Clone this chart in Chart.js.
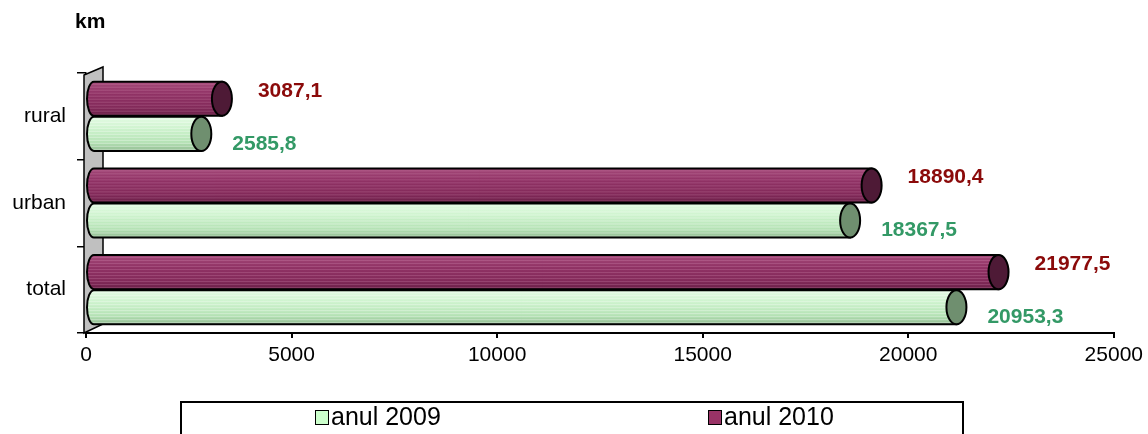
<!DOCTYPE html>
<html>
<head>
<meta charset="utf-8">
<script src="https://cdn.jsdelivr.net/npm/chart.js@4.4.1/dist/chart.umd.min.js"></script>
<style>
  html, body { margin: 0; padding: 0; background: #fff; }
  #wrap { width: 1148px; height: 434px; }
</style>
</head>
<body>
<div id="wrap"><canvas id="chart"></canvas></div>
<script>
const categories = ["rural", "urban", "total"];
const values2009 = [2585.8, 18367.5, 20953.3];
const values2010 = [3087.1, 18890.4, 21977.5];
const seriesNames = ["anul 2009", "anul 2010"];
const xTicks = [0, 5000, 10000, 15000, 20000, 25000];
const unitLabel = "km";

const FONT = "'Liberation Sans', Arial, sans-serif";

// look of each series (2009 = light green, 2010 = maroon)
const looks = {
  "anul 2009": {
    stops: [[0, "#e4fbe4"], [0.35, "#cdf3cd"], [0.75, "#b4e2b4"], [1, "#8fba8f"]],
    cap: "#6f8f6f", label: "#339966", swatch: "#ccffcc", stripe: "rgba(255,255,255,0.35)",
    dx: 21, dy: 10
  },
  "anul 2010": {
    stops: [[0, "#a54a7a"], [0.35, "#903265"], [0.75, "#832a5a"], [1, "#6a1f47"]],
    cap: "#4e1a36", label: "#8b0a0a", swatch: "#993366", stripe: "rgba(255,200,230,0.18)",
    dx: 26, dy: -8
  }
};

function fmt(v) {
  return v.toFixed(1).replace(".", ",");
}

function bodyPath(ctx, base, right, cy, h, rxL) {
  const top = cy - h / 2, bot = cy + h / 2;
  ctx.beginPath();
  ctx.moveTo(base + rxL, top);
  ctx.lineTo(right, top);
  ctx.lineTo(right, bot);
  ctx.lineTo(base + rxL, bot);
  ctx.ellipse(base + rxL, cy, rxL, h / 2, 0, Math.PI / 2, Math.PI * 1.5);
  ctx.closePath();
}

function drawCylinder(ctx, base, end, cy, h, look) {
  const top = cy - h / 2, bot = cy + h / 2;
  const rxL = 7, rxR = 10, right = end + 9;
  const grad = ctx.createLinearGradient(0, top, 0, bot);
  look.stops.forEach(s => grad.addColorStop(s[0], s[1]));

  ctx.save();
  bodyPath(ctx, base, right, cy, h, rxL);
  ctx.fillStyle = grad;
  ctx.fill();

  // thin stripes for the texture
  ctx.save();
  ctx.clip();
  ctx.strokeStyle = look.stripe;
  ctx.lineWidth = 1;
  for (let y = top + 2; y < bot; y += 3) {
    ctx.beginPath();
    ctx.moveTo(base, y + 0.5);
    ctx.lineTo(right, y + 0.5);
    ctx.stroke();
  }
  ctx.restore();

  bodyPath(ctx, base, right, cy, h, rxL);
  ctx.strokeStyle = "#000";
  ctx.lineWidth = 2;
  ctx.stroke();

  ctx.beginPath();
  ctx.ellipse(right, cy, rxR, h / 2, 0, 0, Math.PI * 2);
  ctx.fillStyle = look.cap;
  ctx.fill();
  ctx.stroke();
  ctx.restore();
  return right + rxR;
}

const cylinderPlugin = {
  id: "cylinders",
  beforeDatasetsDraw(chart) {
    const ctx = chart.ctx, a = chart.chartArea;
    ctx.save();
    ctx.beginPath();
    ctx.moveTo(a.left - 2, a.bottom);
    ctx.lineTo(a.left - 2, a.top + 2);
    ctx.lineTo(a.left + 17, a.top - 6);
    ctx.lineTo(a.left + 17, a.bottom - 9);
    ctx.closePath();
    ctx.fillStyle = "#c0c0c0";
    ctx.fill();
    ctx.strokeStyle = "#000";
    ctx.lineWidth = 1.5;
    ctx.stroke();
    ctx.restore();
  },
  afterDatasetsDraw(chart) {
    const ctx = chart.ctx;
    const order = [1, 0];
    order.forEach(di => {
      const ds = chart.data.datasets[di];
      const look = looks[ds.label];
      const meta = chart.getDatasetMeta(di);
      meta.data.forEach((el, i) => {
        const p = el.getProps(["x", "y", "base", "height"], true);
        const tip = drawCylinder(ctx, p.base, p.x, p.y, p.height - 1, look);
        ctx.save();
        ctx.font = "bold 21px " + FONT;
        ctx.fillStyle = look.label;
        ctx.textAlign = "left";
        ctx.textBaseline = "middle";
        ctx.fillText(fmt(ds.data[i]), tip + look.dx, p.y + look.dy);
        ctx.restore();
      });
    });
  },
  afterDraw(chart) {
    const ctx = chart.ctx;
    const cx = chart.width / 2;
    ctx.save();
    // unit label
    ctx.font = "bold 21px " + FONT;
    ctx.fillStyle = "#000";
    ctx.textBaseline = "middle";
    ctx.fillText(unitLabel, 75, 22);

    // legend frame
    const left = cx - 393, right = cx + 389, top = 402;
    ctx.strokeStyle = "#000";
    ctx.lineWidth = 2;
    ctx.strokeRect(left, top, right - left, 40);

    const itemX = [left + 134, left + 527];
    ctx.font = "25px " + FONT;
    seriesNames.forEach((name, k) => {
      const look = looks[name];
      ctx.fillStyle = look.swatch;
      ctx.fillRect(itemX[k], 410, 13, 14);
      ctx.lineWidth = 1;
      ctx.strokeRect(itemX[k] + 0.5, 410.5, 13, 14);
      ctx.fillStyle = "#000";
      ctx.fillText(name, itemX[k] + 16, 418);
    });
    ctx.restore();
  }
};

new Chart(document.getElementById("chart"), {
  type: "bar",
  data: {
    labels: categories,
    datasets: [
      { label: seriesNames[1], data: values2010, backgroundColor: "rgba(0,0,0,0)", borderWidth: 0 },
      { label: seriesNames[0], data: values2009, backgroundColor: "rgba(0,0,0,0)", borderWidth: 0 }
    ]
  },
  options: {
    indexAxis: "y",
    responsive: true,
    maintainAspectRatio: false,
    animation: false,
    devicePixelRatio: 1,
    layout: { padding: { top: 73, right: 32, left: 0, bottom: 0 } },
    datasets: { bar: { categoryPercentage: 0.81, barPercentage: 1 } },
    plugins: { legend: { display: false }, tooltip: { enabled: false } },
    scales: {
      x: {
        type: "linear",
        min: 0,
        max: 25000,
        afterBuildTicks: s => { s.ticks = xTicks.map(v => ({ value: v })); },
        afterFit: s => { s.height = 101; },
        ticks: { color: "#000", font: { family: FONT, size: 21 }, padding: 5, maxRotation: 0,
                 callback: v => String(v) },
        grid: { drawOnChartArea: false, drawTicks: true, tickLength: 5, color: "#000", lineWidth: 2 },
        border: { color: "#000", width: 2 }
      },
      y: {
        type: "category",
        afterFit: s => { s.width = 86; },
        ticks: { color: "#000", font: { family: FONT, size: 21 }, padding: 11 },
        grid: { drawOnChartArea: false, drawTicks: true, tickLength: 9, color: "#000", lineWidth: 1.5, offset: true },
        border: { color: "#000", width: 1.5 }
      }
    }
  },
  plugins: [cylinderPlugin]
});
</script>
</body>
</html>
